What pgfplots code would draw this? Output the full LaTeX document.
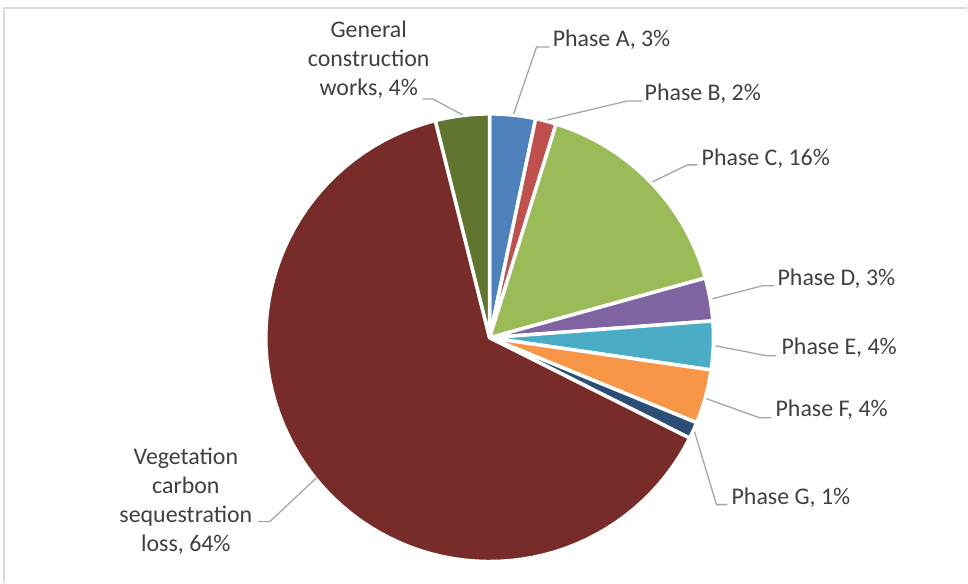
\documentclass[border=0pt]{standalone}
\usepackage{pgfplots}
\pgfplotsset{compat=1.18}
\usepackage{fontspec}
\setmainfont{Carlito}
\definecolor{cA}{HTML}{4F81BD}
\definecolor{cB}{HTML}{C0504D}
\definecolor{cC}{HTML}{9BBB59}
\definecolor{cD}{HTML}{8064A2}
\definecolor{cE}{HTML}{4BACC6}
\definecolor{cF}{HTML}{F79646}
\definecolor{cG}{HTML}{2C4D75}
\definecolor{cV}{HTML}{772C2A}
\definecolor{cW}{HTML}{5F7530}
\definecolor{txt}{HTML}{404040}
\definecolor{lead}{HTML}{A6A6A6}
\definecolor{frame}{HTML}{D9D9D9}
\tikzset{lab/.style={font=\fontsize{24}{29}\selectfont, text=txt, inner sep=0pt},
  ld/.style={lead, line width=1.3bp}}
% slice: start percent, end percent (cumulative shares), colour
\newcommand{\slice}[3]{%
  \pgfmathsetmacro{\sa}{#1*3.6}%
  \pgfmathsetmacro{\sb}{#2*3.6}%
  \addplot[fill=#3, draw=white, line width=3.5bp, line join=round,
    domain=\sa:\sb, samples=80, variable=\t]
    ({490+224*sin(\t)}, {-338+224*cos(\t)}) -- (axis cs:490,-338) -- cycle;
}
\begin{document}
\begin{tikzpicture}
\begin{axis}[hide axis, scale only axis, width=968bp, height=583bp,
  xmin=0, xmax=968, ymin=-583, ymax=0, clip=false]
% whole picture area
\path (axis cs:0,0) rectangle (axis cs:968,-583);
% frame
\draw[frame, line width=1.5bp] (axis cs:4,-583) -- (axis cs:4,-8) -- (axis cs:968,-8);
% shares (percent): A 3.3, B 1.5, C 15.9, D 3.1, E 3.5, F 3.9, G 1.2, Vegetation 63.7, General 3.9
\slice{0}{3.3}{cA}
\slice{3.3}{4.8}{cB}
\slice{4.8}{20.7}{cC}
\slice{20.7}{23.8}{cD}
\slice{23.8}{27.3}{cE}
\slice{27.3}{31.2}{cF}
\slice{31.2}{32.4}{cG}
\slice{32.4}{96.1}{cV}
\slice{96.1}{100}{cW}
% leader lines
\draw[ld] (axis cs:514,-114) -- (axis cs:537,-47) -- (axis cs:550,-47);
\draw[ld] (axis cs:548,-120) -- (axis cs:628,-101) -- (axis cs:643,-101);
\draw[ld] (axis cs:653,-182) -- (axis cs:688,-165) -- (axis cs:698,-165);
\draw[ld] (axis cs:713,-299) -- (axis cs:763,-286) -- (axis cs:775,-286);
\draw[ld] (axis cs:716,-346) -- (axis cs:767,-356) -- (axis cs:777,-356);
\draw[ld] (axis cs:707,-399) -- (axis cs:760,-418) -- (axis cs:772,-418);
\draw[ld] (axis cs:695,-432) -- (axis cs:717,-505) -- (axis cs:728,-505);
\draw[ld] (axis cs:317,-478) -- (axis cs:270,-522) -- (axis cs:258,-522);
\draw[ld] (axis cs:423,-99) -- (axis cs:433,-99) -- (axis cs:463,-115);
% labels
\node[lab, anchor=base west] at (axis cs:553,-47) {Phase A, 3\%};
\node[lab, anchor=base west] at (axis cs:645,-101) {Phase B, 2\%};
\node[lab, anchor=base west] at (axis cs:702,-166) {Phase C, 16\%};
\node[lab, anchor=base west] at (axis cs:778,-286) {Phase D, 3\%};
\node[lab, anchor=base west] at (axis cs:782,-355) {Phase E, 4\%};
\node[lab, anchor=base west] at (axis cs:776,-417) {Phase F, 4\%};
\node[lab, anchor=base west] at (axis cs:732,-505) {Phase G, 1\%};
\node[lab, anchor=base] at (axis cs:186,-465) {Vegetation};
\node[lab, anchor=base] at (axis cs:186,-494) {carbon};
\node[lab, anchor=base] at (axis cs:186,-523) {sequestration};
\node[lab, anchor=base] at (axis cs:186,-552) {loss, 64\%};
\node[lab, anchor=base] at (axis cs:369,-38) {General};
\node[lab, anchor=base] at (axis cs:369,-67) {construction};
\node[lab, anchor=base] at (axis cs:369,-96) {works, 4\%};
\end{axis}
\end{tikzpicture}
\end{document}
